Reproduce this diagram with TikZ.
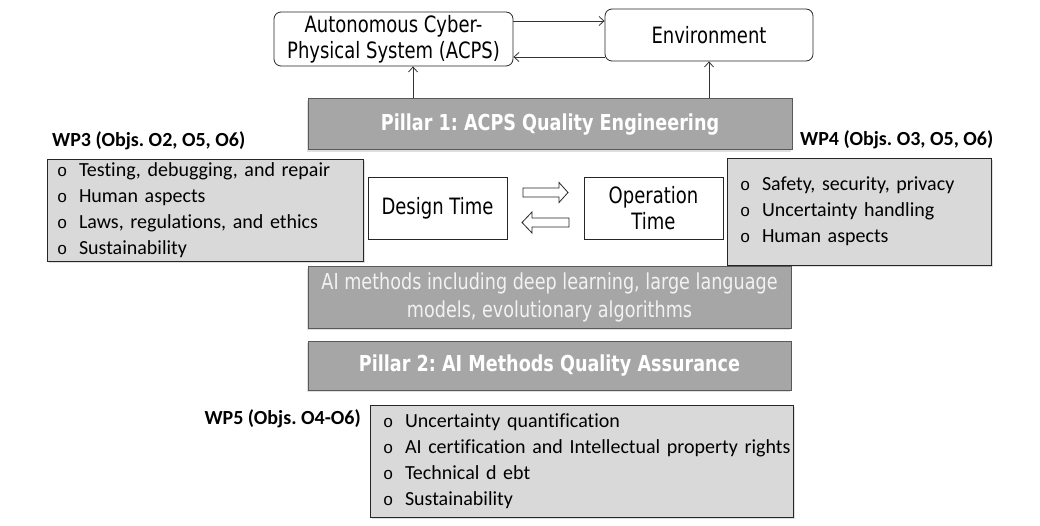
\documentclass[tikz,border=0pt]{standalone}
\usepackage{fontspec}
\setmainfont{DejaVu Sans}[FakeStretch=0.8]
\newfontfamily\calfont{Carlito}[Ligatures=NoCommon]
\newfontfamily\bulfont{Liberation Mono}
\usetikzlibrary{arrows.meta,shadows}
\frenchspacing
\definecolor{gfill}{HTML}{A6A6A6}
\definecolor{gline}{HTML}{595959}
\definecolor{lfill}{HTML}{D9D9D9}
\definecolor{ailine}{HTML}{F2F2F2}
\newcommand{\bul}{\makebox[22pt][l]{\bulfont\fontsize{17}{17}\selectfont o}}
\tikzset{
  wbox/.style={draw=black!85, line width=0.8pt, fill=white, align=center, inner sep=0pt,
    font=\fontsize{22.5}{26}\selectfont},
  rbox/.style={wbox, rounded corners=7pt},
  gbox/.style={draw=gline, line width=1pt, fill=gfill, text=white, align=center, inner sep=0pt,
    minimum width=483pt, font=\fontsize{22}{28}\selectfont,
    drop shadow={shadow xshift=-1.5pt, shadow yshift=-2pt, opacity=0.25}},
  lbox/.style={draw=black!85, line width=0.9pt, fill=lfill, align=left, inner ysep=0pt,
    font=\calfont\fontsize{20}{26}\selectfont,
    drop shadow={shadow xshift=2pt, shadow yshift=-2pt, opacity=0.25}},
  wplabel/.style={font=\calfont\bfseries\fontsize{20}{24}\selectfont, inner sep=0pt},
  conn/.style={draw=black!80, line width=0.8pt, -{Straight Barb[length=5pt,width=9pt]}},
  blockarrow/.style={draw=black!85, line width=0.8pt, fill=white}
}
\begin{document}
\begin{tikzpicture}[x=1pt,y=-1pt]
\useasboundingbox (0,0) rectangle (1040,526);
% top boxes
\node[rbox, minimum width=239pt, minimum height=54pt] (acps) at (393.5,39) {Autonomous Cyber-\\Physical System (ACPS)};
\node[rbox, minimum width=208pt, minimum height=52pt] (env) at (709,35) {Environment};
\draw[conn] ([yshift=18pt]acps.east) -- ([yshift=18pt]acps.east -| env.west);
\draw[conn] ([yshift=-18pt]acps.east -| env.west) -- ([yshift=-18pt]acps.east);
% pillar 1
\node[gbox, minimum width=484pt, minimum height=51pt, font=\bfseries\fontsize{22}{28}\selectfont] (p1) at (550,124.5) {Pillar 1: ACPS Quality Engineering};
\coordinate (u1) at (413,0);
\draw[conn] (u1 |- p1.north) -- (u1 |- acps.south);
\draw[conn] (env.south |- p1.north) -- (env.south);
% WP3
\node[wplabel, anchor=west] (wp3l) at (52,141) {WP3 (Objs. O2, O5, O6)};
\node[lbox, minimum width=316pt, minimum height=102pt, text width=296pt, inner xsep=10pt] (wp3) at (205,210)
  {\bul Testing, debugging, and repair\\\bul Human aspects\\\bul Laws, regulations, and ethics\\\bul Sustainability};
% WP4
\node[wplabel, anchor=west] (wp4l) at (800,140) {WP4 (Objs. O3, O5, O6)};
\node[lbox, minimum width=264pt, minimum height=107pt, text width=238pt, inner xsep=13pt] (wp4) at (859,211.5)
  {\bul Safety, security, privacy\\\bul Uncertainty handling\\\bul Human aspects};
% design / operation
\node[wbox, minimum width=139pt, minimum height=62pt] (dt) at (437.5,208) {Design Time};
\node[wbox, minimum width=139pt, minimum height=62pt] (ot) at (653.5,208) {Operation\\Time};
\draw[blockarrow] (523,188) -- (559,188) -- (559,182.5) -- (568,192.5) -- (559,202.5) -- (559,197) -- (523,197) -- cycle;
\draw[blockarrow] (569,218) -- (532,218) -- (532,212) -- (522,222.5) -- (532,233) -- (532,227) -- (569,227) -- cycle;
% AI methods
\node[gbox, minimum height=61pt, text=ailine] (ai) at (549.5,297.5) {AI methods including deep learning, large language\\models, evolutionary algorithms};
\node[gbox, minimum height=49pt, font=\bfseries\fontsize{22}{28}\selectfont] (p2) at (549.5,365.5) {Pillar 2: AI Methods Quality Assurance};
% WP5
\node[wplabel, anchor=east] (wp5l) at (361,419) {WP5 (Objs. O4-O6)};
\node[lbox, minimum width=423pt, minimum height=112pt, text width=397pt, inner xsep=13pt] (wp5) at (581.5,461)
  {\bul Uncertainty quantification\\\mbox{\bul AI certification and Intellectual property rights}\\\bul Technical d ebt\\\bul Sustainability};
\end{tikzpicture}
\end{document}
